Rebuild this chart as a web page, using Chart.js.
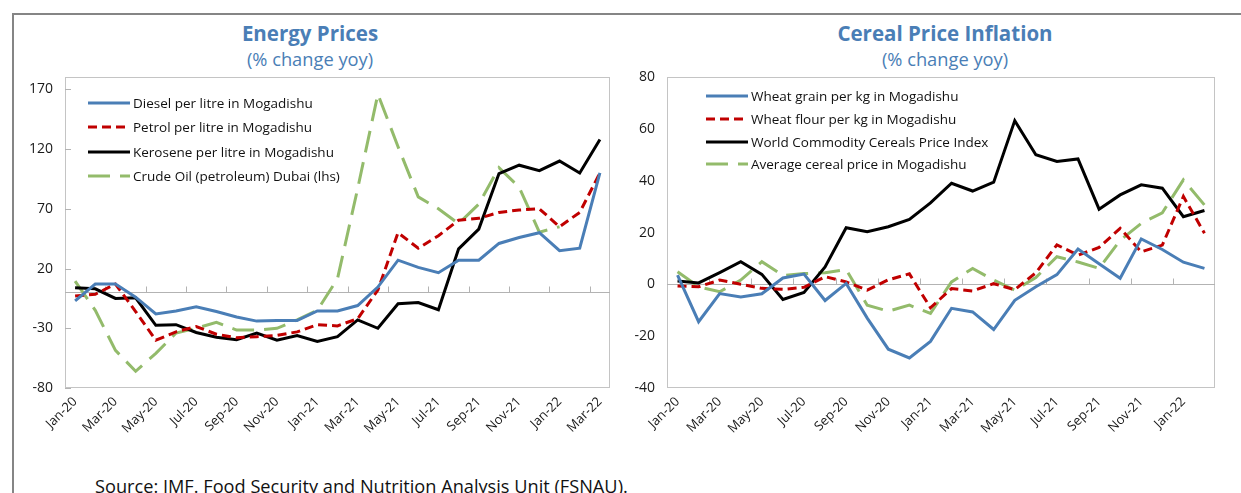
<!DOCTYPE html>
<html>
<head>
<meta charset="utf-8">
<script src="https://cdn.jsdelivr.net/npm/chart.js@4.4.1/dist/chart.umd.min.js"></script>
<style>
  html, body { margin:0; padding:0; background:#fff; }
  body { width:1241px; height:493px; overflow:hidden; position:relative; font-family:"Open Sans", sans-serif; }
  .frame { position:absolute; left:12px; top:13px; width:1240px; height:500px; border-top:2px solid #858585; border-left:2px solid #858585; box-sizing:border-box; }
  .title { position:absolute; text-align:center; color:#4a7eb6; white-space:nowrap; }
  .t1 { font-weight:700; font-size:20.5px; }
  .t2 { font-size:18.3px; }
  .box { position:absolute; }
  .legend { position:absolute; font-size:13.5px; color:#111; }
  .legend .row { position:absolute; left:0; white-space:nowrap; height:20px; line-height:20px; }
  .legend svg { position:absolute; left:0; top:8px; }
  .legend span { position:absolute; top:0; }
  .source { position:absolute; left:95px; top:474px; font-size:18.2px; color:#111; white-space:nowrap; }
</style>
</head>
<body>
<div class="frame"></div>

<div class="title t1" style="left:160px; width:300px; top:19px;">Energy Prices</div>
<div class="title t2" style="left:160px; width:300px; top:46px;">(% change yoy)</div>
<div class="title t1" style="left:795px; width:300px; top:19px;">Cereal Price Inflation</div>
<div class="title t2" style="left:795px; width:300px; top:46px;">(% change yoy)</div>

<div class="box" style="left:0px; top:57px; width:620px; height:413px;"><canvas id="c1"></canvas></div>
<div class="box" style="left:620px; top:57px; width:621px; height:413px;"><canvas id="c2"></canvas></div>

<div class="legend" id="lg1" style="left:88px; top:93px;"></div>
<div class="legend" id="lg2" style="left:706px; top:86px;"></div>

<div class="source">Source: IMF. Food Security and Nutrition Analysis Unit (FSNAU).</div>

<script>
// ---------- DATA ----------
const energyMonths = ['Jan-20','Feb-20','Mar-20','Apr-20','May-20','Jun-20','Jul-20','Aug-20','Sep-20','Oct-20','Nov-20','Dec-20',
  'Jan-21','Feb-21','Mar-21','Apr-21','May-21','Jun-21','Jul-21','Aug-21','Sep-21','Oct-21','Nov-21','Dec-21',
  'Jan-22','Feb-22','Mar-22'];
const cerealMonths = ['Jan-20','Feb-20','Mar-20','Apr-20','May-20','Jun-20','Jul-20','Aug-20','Sep-20','Oct-20','Nov-20','Dec-20',
  'Jan-21','Feb-21','Mar-21','Apr-21','May-21','Jun-21','Jul-21','Aug-21','Sep-21','Oct-21','Nov-21','Dec-21',
  'Jan-22','Feb-22'];

const energyNames = ['Diesel per litre in Mogadishu','Petrol per litre in Mogadishu','Kerosene per litre in Mogadishu','Crude Oil (petroleum) Dubai (lhs)'];
const diesel   = [-7, 7, 7, -4, -18, -15.5, -12, -16, -20.5, -24, -23.5, -23.5, -15.5, -15.5, -11, 4.5, 27, 21, 16.5, 27, 27, 41, 46, 50, 35, 37, 100];
const petrol   = [-3, -1.5, 7, -16, -40, -33, -28.5, -35, -38, -37, -36, -33, -27, -28, -22, 2, 50, 37, 47.5, 60.5, 62, 67, 69, 70, 55, 67, 100];
const kerosene = [4, 3, -5, -4.5, -27.5, -27, -33.5, -37.5, -39.5, -34, -40, -36, -41, -37, -23, -30, -9.5, -8.5, -14.5, 36.5, 53, 99.5, 106.5, 102, 110, 100, 128];
const crudeOil = [9.5, -15, -48.5, -66, -51, -34, -30, -25, -31.5, -31.5, -30, -23, -15, 11.5, 87, 166, 122, 80, 70, 57.5, 74, 104.5, 88, 50.5, 55, null, null];
const energyTicks = [-80, -30, 20, 70, 120, 170];

const cerealNames = ['Wheat grain per kg in Mogadishu','Wheat flour per kg in Mogadishu','World Commodity Cereals Price Index','Average cereal price in Mogadishu'];
const wheatGrain = [3.6, -14.4, -3.5, -4.8, -3.6, 2.5, 4, -6.2, 0.4, -13, -25, -28.4, -22, -9.2, -10.6, -17.4, -6.1, -0.9, 3.8, 13.7, 8, 2.4, 17.6, 13.5, 8.6, 6.2];
const wheatFlour = [-0.6, -0.9, 1.7, 0.1, -1.5, -1.9, -1.1, 3, 1, -2.2, 1.8, 4.1, -9, -1.6, -2.5, 0.3, -2, 4.5, 15.3, 11.3, 14.3, 21.7, 12.6, 15.2, 34, 19.8];
const worldCereal = [1.3, 0.6, 4.6, 8.8, 3.9, -5.8, -3.1, 6.8, 21.9, 20.4, 22.3, 25.1, 31.5, 39.1, 36.1, 39.5, 63.3, 50.1, 47.5, 48.5, 29.1, 34.6, 38.5, 37.2, 26.2, 28.6];
const avgCereal = [4.9, -0.9, -2.8, 1.7, 8.8, 3.5, 4.2, 4.5, 5.8, -8, -10.3, -8, -11.2, 1, 6.2, 1.7, -2.2, 2.7, 10.7, 8.7, 6.2, 17.1, 23.6, 27.7, 40.4, 30.7];
const cerealTicks = [-40, -20, 0, 20, 40, 60, 80];

// ---------- STYLES ----------
const styles = [
  { color:'#4a7eb6', dash:[] },
  { color:'#c00000', dash:[9,5] },
  { color:'#000000', dash:[] },
  { color:'#93bb6b', dash:[22,10] }
];

Chart.defaults.font.family = '"Open Sans", sans-serif';
Chart.defaults.color = '#1a1a1a';

const framePlugin = {
  id: 'frame',
  beforeDatasetsDraw(chart, args, opts) {
    const { ctx, chartArea: a, scales: { x, y } } = chart;
    ctx.save();
    ctx.strokeStyle = '#c4c4c4';
    ctx.lineWidth = 1;
    ctx.strokeRect(Math.round(a.left) + 0.5, Math.round(a.top) + 0.5, Math.round(a.width) - 1, Math.round(a.height) - 1);
    const y0 = Math.round(y.getPixelForValue(0)) + 0.5;
    ctx.strokeStyle = '#b3b3b3';
    ctx.beginPath();
    ctx.moveTo(a.left, y0); ctx.lineTo(a.right, y0);
    const n = x.getLabels().length;
    for (let k = 2; k < n; k += 2) {
      const px = Math.round((x.getPixelForValue(k - 1) + x.getPixelForValue(k)) / 2) + 0.5;
      ctx.moveTo(px, y0); ctx.lineTo(px, y0 - 6);
    }
    if (opts.yTicks) {
      y.ticks.forEach(t => {
        const py = Math.round(y.getPixelForValue(t.value)) + 0.5;
        ctx.moveTo(a.left, py); ctx.lineTo(a.left + 6, py);
      });
    }
    ctx.stroke();
    ctx.restore();
  }
};

function makeChart(id, labels, series, names, ticks, ymin, ymax, yWidth, padRight, drawYTicks) {
  const datasets = series.map((d, i) => ({
    label: names[i],
    data: d,
    borderColor: styles[i].color,
    backgroundColor: styles[i].color,
    borderDash: styles[i].dash,
    borderWidth: 3,
    pointRadius: 0,
    tension: 0,
    spanGaps: false,
    borderCapStyle: 'butt',
    borderJoinStyle: 'miter'
  }));
  return new Chart(document.getElementById(id), {
    type: 'line',
    data: { labels, datasets },
    options: {
      responsive: true,
      maintainAspectRatio: false,
      animation: false,
      devicePixelRatio: 1,
      events: [],
      layout: { padding: { top: 7, right: padRight, left: 0, bottom: 0 } },
      plugins: { legend: { display: false }, tooltip: { enabled: false }, frame: { yTicks: drawYTicks } },
      scales: {
        x: {
          type: 'category',
          offset: true,
          grid: { display: false, drawTicks: false },
          border: { display: false },
          ticks: {
            autoSkip: false, minRotation: 45, maxRotation: 45, padding: 6,
            font: { size: 13 }, color: '#1a1a1a',
            callback: function (v, i) { return i % 2 === 0 ? this.getLabelForValue(v) : null; }
          },
          afterFit: s => { s.height = 82; }
        },
        y: {
          min: ymin, max: ymax,
          grid: { display: false, drawTicks: false },
          border: { display: false },
          afterBuildTicks: s => { s.ticks = ticks.map(v => ({ value: v })); },
          ticks: { padding: 12, font: { size: 14 }, color: '#1a1a1a' },
          afterFit: s => { s.width = yWidth; }
        }
      }
    },
    plugins: [framePlugin]
  });
}

makeChart('c1', energyMonths, [diesel, petrol, kerosene, crudeOil], energyNames, energyTicks, -80, 180, 65, 10, true);
makeChart('c2', cerealMonths, [wheatGrain, wheatFlour, worldCereal, avgCereal], cerealNames, cerealTicks, -40, 80, 47, 26, false);

function makeLegend(id, names, spacing) {
  const el = document.getElementById(id);
  names.forEach((n, i) => {
    const row = document.createElement('div');
    row.className = 'row';
    row.style.top = (i * spacing) + 'px';
    const st = styles[i];
    row.innerHTML = '<svg width="42" height="4"><line x1="0" y1="2" x2="42" y2="2" stroke="' + st.color +
      '" stroke-width="3" stroke-dasharray="' + (st.dash.length ? st.dash.join(',') : 'none') + '"/></svg>' +
      '<span style="left:45px">' + n + '</span>';
    el.appendChild(row);
  });
}
makeLegend('lg1', energyNames, 24.3);
makeLegend('lg2', cerealNames, 22.8);
</script>
</body>
</html>
